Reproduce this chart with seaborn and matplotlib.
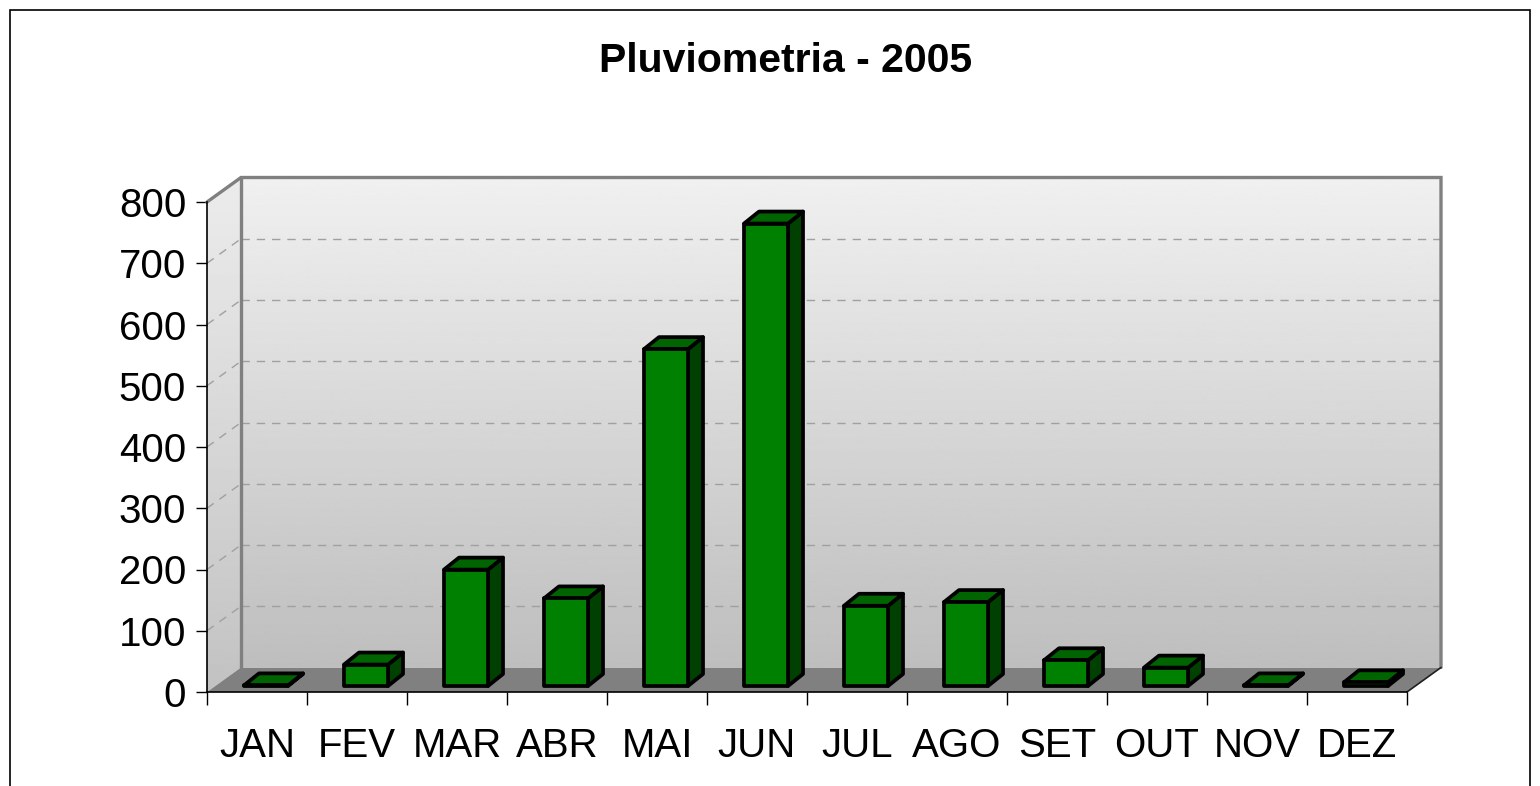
import numpy as np
import matplotlib
matplotlib.use("Agg")
import matplotlib.pyplot as plt
import seaborn as sns
from matplotlib.patches import Polygon, Rectangle

# ---------------- data ----------------
months = ["JAN", "FEV", "MAR", "ABR", "MAI", "JUN", "JUL", "AGO", "SET", "OUT", "NOV", "DEZ"]
rain = [1, 35, 190, 143, 550, 755, 131, 137, 42, 30, 1, 6]
y_ticks = [0, 100, 200, 300, 400, 500, 600, 700, 800]
title = "Pluviometria - 2005"

sns.set_style("white")
plt.rcParams['font.family'] = ['Liberation Sans', 'DejaVu Sans']
plt.rcParams['text.color'] = 'black'

W, H = 1540, 786
fig = plt.figure(figsize=(W / 100, H / 100), dpi=100)
ax = fig.add_axes([207 / W, 1 - 692 / H, 1200 / W, 490 / H])

PXY = 800 / 490.0   # data units per pixel (y)
PXX = 0.01          # data units per pixel (x)
EDGE = 2.7

# bars via seaborn
sns.barplot(x=months, y=rain, color="#008000", saturation=1, width=0.44,
            edgecolor="black", linewidth=EDGE, ax=ax, zorder=4)
bars = list(ax.patches)

ax.set_xlim(-0.5, 11.5)
ax.set_ylim(0, 800)
ax.patch.set_alpha(0)

DX, DY = 34 * PXX, 24.5 * PXY      # wall depth
BASE = 6 * PXY                      # bar base above the front floor edge
SX, SY = 15 * PXX, 12 * PXY         # bar depth
SHIFT = 9 * PXX

# back wall gradient
grad = np.linspace(240, 190, 256)[:, None]
ax.imshow(grad, extent=(-0.5 + DX, 11.5 + DX, DY, 800 + DY), aspect="auto",
          cmap="gray", vmin=0, vmax=255, origin="upper", zorder=0, clip_on=False,
          interpolation="bilinear")
# left wall gradient
lw_poly = Polygon([(-0.5, 0), (-0.5 + DX, DY), (-0.5 + DX, 800 + DY), (-0.5, 800)],
                  closed=True, fc="none", ec="none", transform=ax.transData)
ax.add_patch(lw_poly)
grad2 = np.linspace(236, 194, 256)[:, None]
im2 = ax.imshow(grad2, extent=(-0.5, -0.5 + DX, 0, 800 + DY), aspect="auto",
                cmap="gray", vmin=0, vmax=255, origin="upper", zorder=0,
                interpolation="bilinear")
im2.set_clip_on(True)
im2.set_clip_box(fig.bbox)
im2.set_clip_path(lw_poly)

ax.set_xlim(-0.5, 11.5)
ax.set_ylim(0, 800)

# floor
ax.add_patch(Polygon([(-0.5, 0), (11.5, 0), (11.5 + DX, DY), (-0.5 + DX, DY)],
                     closed=True, fc="#808080", ec="none", zorder=1, clip_on=False))

# gridlines
for v in y_ticks[1:-1]:
    ax.plot([-0.5 + DX, 11.5 + DX], [v + DY, v + DY], color="#a0a0a0", lw=1,
            ls=(0, (6, 5)), zorder=1, clip_on=False)
    ax.plot([-0.5, -0.5 + DX], [v, v + DY], color="#a0a0a0", lw=1,
            ls=(0, (6, 5)), zorder=1, clip_on=False)

# wall edges
ax.plot([-0.5, -0.5 + DX, 11.5 + DX, 11.5 + DX], [800, 800 + DY, 800 + DY, DY],
        color="#808080", lw=2.4, zorder=2, clip_on=False, solid_joinstyle="miter")
ax.plot([-0.5 + DX, -0.5 + DX], [DY, 800 + DY], color="#808080", lw=2.4,
        zorder=2, clip_on=False)
ax.plot([11.5, 11.5 + DX], [0, DY], color="#202020", lw=1.2, zorder=2, clip_on=False)

# 3D faces for bars
for p in bars:
    x0 = p.get_x() + SHIFT
    w = p.get_width()
    h = p.get_height()
    p.set_x(x0)
    p.set_y(BASE)
    top = BASE + h
    ax.add_patch(Polygon([(x0 + w, BASE), (x0 + w + SX, BASE + SY),
                          (x0 + w + SX, top + SY), (x0 + w, top)],
                         closed=True, fc="#004000", ec="black", lw=EDGE, zorder=3,
                         joinstyle="round"))
    ax.add_patch(Polygon([(x0, top), (x0 + w, top), (x0 + w + SX, top + SY),
                          (x0 + SX, top + SY)],
                         closed=True, fc="#006400", ec="black", lw=EDGE, zorder=3,
                         joinstyle="round"))
    p.set_joinstyle("round")

# axes styling
for s in ["top", "right"]:
    ax.spines[s].set_visible(False)
for s in ["left", "bottom"]:
    ax.spines[s].set_color("black")
    ax.spines[s].set_linewidth(1.2)
    ax.spines[s].set_zorder(5)

ax.set_yticks(y_ticks)
ax.set_yticklabels([str(v) for v in y_ticks])
ax.tick_params(axis="y", left=True, direction="out", length=8, width=1.0,
               pad=7, labelsize=29, colors="black")

ax.set_xticks(np.arange(-0.5, 12, 1))
ax.set_xticklabels([])
ax.set_xticks(np.arange(12), minor=True)
ax.set_xticklabels(months, minor=True)
ax.tick_params(axis="x", which="major", bottom=True, direction="out", length=9,
               width=1.0, labelbottom=False, colors="black")
ax.tick_params(axis="x", which="minor", bottom=True, length=0, pad=25,
               labelsize=29, colors="black")
ax.set_xlabel("")
ax.set_ylabel("")
ax.grid(False)

# title and outer frame
fig.text(786 / W, 1 - 61 / H, title, ha="center", va="center", fontsize=29.5,
         fontweight="bold", color="black")
fig.add_artist(Rectangle((10 / W, -0.02), 1520 / W, 1 - 10 / H + 0.02,
                         transform=fig.transFigure, fill=False, ec="black", lw=1.2))

fig.savefig("out.png", dpi=100)
